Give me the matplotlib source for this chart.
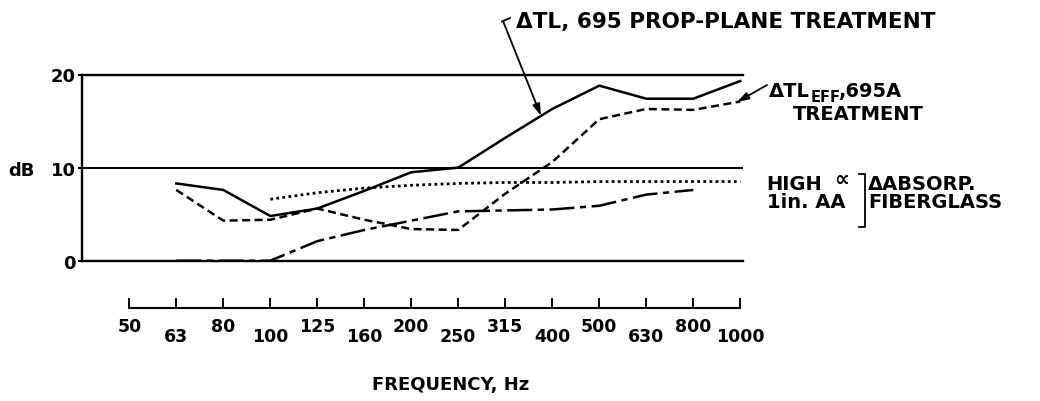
import numpy as np
import matplotlib
matplotlib.use("Agg")
import matplotlib.pyplot as plt
from matplotlib.lines import Line2D

# 1/3-octave band centre frequencies (Hz)
bands = ["50", "63", "80", "100", "125", "160", "200", "250",
         "315", "400", "500", "630", "800", "1000"]

# Delta TL, 695 prop-plane treatment (63 .. 1000 Hz), dB
dtl_prop_plane = [8.3, 7.6, 4.8, 5.6, 7.5, 9.5, 10.0, 13.2, 16.3, 18.8, 17.4, 17.4, 19.3]
dtl_prop_plane_start = "63"

# Delta TL effective, 695A treatment (63 .. 1000 Hz), dB
dtl_eff_695a = [7.6, 4.3, 4.4, 5.6, 4.4, 3.4, 3.3, 7.2, 10.6, 15.2, 16.3, 16.2, 17.1]
dtl_eff_695a_start = "63"

# Delta absorption, high-alpha treatment (100 .. 1000 Hz), dB
high_alpha = [6.6, 7.3, 7.8, 8.1, 8.3, 8.4, 8.4, 8.5, 8.5, 8.5, 8.5]
high_alpha_start = "100"

# Delta absorption, 1 in. AA fiberglass (63 .. 800 Hz), dB
fiberglass_1in = [0.0, 0.0, 0.0, 2.1, 3.3, 4.3, 5.3, 5.4, 5.5, 5.9, 7.1, 7.6]
fiberglass_1in_start = "63"

y_ticks = [0, 10, 20]
y_tick_labels = ["0", "10", "20"]

plt.rcParams["font.family"] = ["DejaVu Sans"]
plt.rcParams["font.weight"] = "bold"

W, H = 1040, 402
fig = plt.figure(figsize=(W / 100, H / 100), dpi=100)
fig.patch.set_facecolor("white")


def fx(px):
    return px / W


def fy(py):
    return 1 - py / H


def band_pos(start, values):
    i0 = bands.index(start)
    return np.arange(i0, i0 + len(values))


XLIM = (-1, 13.06)

# ---- main panel: dB scale with reference lines at 0, 10, 20 ----
ax = fig.add_axes([fx(82.3), fy(261.7), (743.1 - 82.3) / W, (261.7 - 75.5) / H])
ax.set_xlim(*XLIM)
ax.set_ylim(0, 20)
ax.patch.set_visible(False)
for side in ("left", "top", "bottom"):
    ax.spines[side].set_linewidth(1.7)
ax.spines["right"].set_visible(False)
ax.axhline(10, color="black", lw=1.5)
ax.set_xticks([])
ax.set_yticks(y_ticks)
ax.set_yticklabels(y_tick_labels)
ax.tick_params(axis="y", direction="out", length=3, width=1.5, pad=1.5, labelsize=13)

x_prop = band_pos(dtl_prop_plane_start, dtl_prop_plane)
x_eff = band_pos(dtl_eff_695a_start, dtl_eff_695a)
x_alpha = band_pos(high_alpha_start, high_alpha)
x_fg = band_pos(fiberglass_1in_start, fiberglass_1in)

ax.plot(x_prop, dtl_prop_plane, color="black", lw=1.8, clip_on=False)
ax.plot(x_eff, dtl_eff_695a, color="black", lw=1.8, dashes=(3.2, 1.8), clip_on=False)
ax.plot(x_alpha, high_alpha, color="black", lw=2.0, dashes=(1.0, 1.2), clip_on=False)
ax.plot(x_fg, fiberglass_1in, color="black", lw=1.8, dashes=(10, 2.2, 2.5, 2.2), clip_on=False)

fig.text(fx(8), fy(176), "dB", fontsize=13, ha="left", va="baseline")

# ---- frequency scale below the panel ----
axb = fig.add_axes([fx(82.3), fy(309), (743.1 - 82.3) / W, 0.001])
axb.set_xlim(*XLIM)
axb.patch.set_visible(False)
for side in ("left", "top", "right"):
    axb.spines[side].set_visible(False)
axb.spines["bottom"].set_linewidth(1.5)
axb.spines["bottom"].set_bounds(0, len(bands) - 1)
axb.set_yticks([])
idx = np.arange(len(bands))
axb.set_xticks(idx[::2])
axb.set_xticklabels(bands[::2])
axb.set_xticks(idx[1::2], minor=True)
axb.set_xticklabels(bands[1::2], minor=True)
axb.tick_params(axis="x", which="both", direction="in", length=7, width=1.4, labelsize=12.5)
axb.tick_params(axis="x", which="major", pad=6.5)
axb.tick_params(axis="x", which="minor", pad=13.5)
axb.set_xlabel("FREQUENCY, Hz", fontsize=13, fontweight="bold")
axb.xaxis.set_label_coords(fx(451), fy(376), transform=fig.transFigure)

# ---- annotations ----
arrow_kw = dict(arrowstyle="-|>,head_length=0.7,head_width=0.22", lw=1.3,
                color="black", shrinkA=0, shrinkB=0)

fig.text(fx(515.7), fy(28.3), "\u0394TL, 695 PROP-PLANE TREATMENT", fontsize=15.5,
         ha="left", va="baseline")
tip_x = 8.76
ax.annotate("", xy=(tip_x, np.interp(tip_x, x_prop, dtl_prop_plane)), xycoords="data",
            xytext=(fx(503), fy(22)), textcoords="figure fraction", arrowprops=arrow_kw,
            annotation_clip=False)
fig.add_artist(Line2D([fx(502), fx(510)], [fy(22.5), fy(19)], transform=fig.transFigure,
                      lw=1.3, color="black"))

tip_x2 = 12.93
ax.annotate("", xy=(tip_x2, np.interp(tip_x2, x_eff, dtl_eff_695a)), xycoords="data",
            xytext=(fx(767), fy(86)), textcoords="figure fraction", arrowprops=arrow_kw,
            annotation_clip=False)
fig.text(fx(769.3), fy(96.7), "\u0394TL", fontsize=14, ha="left", va="baseline")
fig.text(fx(810.5), fy(102.5), "EFF", fontsize=10.5, ha="left", va="baseline")
fig.text(fx(838.5), fy(96.7), ",695A", fontsize=14, ha="left", va="baseline")
fig.text(fx(792.7), fy(120), "TREATMENT", fontsize=14, ha="left", va="baseline")

fig.text(fx(766.7), fy(190), "HIGH", fontsize=14, ha="left", va="baseline")
fig.text(fx(834), fy(186), "\u221d", fontsize=15, ha="left", va="baseline")
fig.text(fx(766.7), fy(208.3), "1in. AA", fontsize=14, ha="left", va="baseline")
fig.add_artist(Line2D([fx(859), fx(865), fx(865), fx(859)],
                      [fy(175), fy(175), fy(228), fy(228)],
                      transform=fig.transFigure, lw=1.3, color="black"))
fig.text(fx(868.3), fy(190), "\u0394ABSORP.", fontsize=14, ha="left", va="baseline")
fig.text(fx(868.3), fy(208.3), "FIBERGLASS", fontsize=14, ha="left", va="baseline")

fig.savefig("out.png", dpi=100, facecolor="white")
